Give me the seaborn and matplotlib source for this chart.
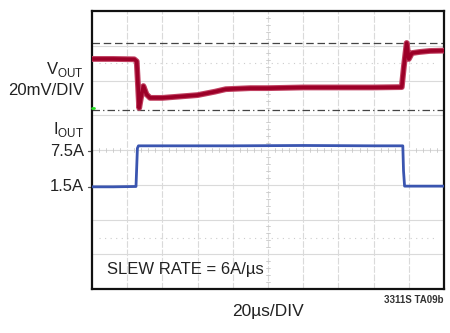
import pandas as pd
import seaborn as sns
import matplotlib.pyplot as plt

# scope traces, in divisions (x: 0-10 time divs, y: 0-8 vertical divs)
vout_t = [0.0, 0.6, 1.2, 1.27, 1.31, 1.34, 1.39, 1.46, 1.55, 1.65, 2.0, 2.5, 3.0, 3.5, 3.8,
          4.5, 5.0, 6.0, 7.0, 8.0, 8.8, 8.86, 8.94, 9.0, 9.09, 9.3, 9.6, 10.0]
vout_v = [6.62, 6.62, 6.61, 6.55, 5.8, 5.21, 5.5, 5.84, 5.6, 5.5, 5.5, 5.54, 5.58, 5.68, 5.75,
          5.78, 5.78, 5.8, 5.8, 5.8, 5.81, 6.4, 7.08, 6.62, 6.79, 6.82, 6.85, 6.86]

iout_t = [0.0, 0.6, 1.25, 1.27, 1.29, 1.32, 2.0, 4.0, 6.0, 8.0, 8.83, 8.85, 8.88, 9.5, 10.0]
iout_v = [2.94, 2.94, 2.95, 3.5, 4.05, 4.12, 4.12, 4.12, 4.13, 4.12, 4.12, 3.4, 2.96, 2.96, 2.96]

vref_dash = 7.08      # dashed marker level
vref_dashdot = 5.15   # dash-dot marker level
dotted_rows = [6.5, 1.47]

labels = [("V$_\\mathregular{OUT}$", 6.33), ("20mV/DIV", 5.72), ("I$_\\mathregular{OUT}$", 4.58),
          ("7.5A", 3.97), ("1.5A", 2.96)]
tick_marks = [3.97, 2.94]

sns.set_style("white")
plt.rcParams['font.family'] = ['Liberation Sans', 'DejaVu Sans']
plt.rcParams['mathtext.fontset'] = 'custom'
plt.rcParams['mathtext.rm'] = 'Liberation Sans'

fig = plt.figure(figsize=(4.5, 3.33), dpi=100)
ax = fig.add_axes([92 / 450, 44 / 333, 352 / 450, 278 / 333])

# graticule
for x in range(1, 10):
    ax.axvline(x, color='#dadada', lw=0.8, ls=(0, (6, 1.5)), zorder=0)
for y in range(1, 8):
    ax.axhline(y, color='#dadada', lw=0.8, zorder=0)
for y in dotted_rows:
    ax.axhline(y, xmin=0.02, xmax=0.98, color='#cccccc', lw=0.8, ls=(0, (1, 4)), zorder=0)
# minor ticks on the centre cross
for i in range(1, 50):
    if i % 5:
        ax.plot([i * 0.2, i * 0.2], [3.93, 4.07], color='#c8c8c8', lw=0.6, zorder=0)
for i in range(1, 40):
    if i % 5:
        ax.plot([4.93, 5.07], [i * 0.2, i * 0.2], color='#c8c8c8', lw=0.6, zorder=0)

ax.axhline(vref_dash, color='#444444', lw=0.9, ls=(0, (6, 3)), zorder=1)
ax.axhline(vref_dashdot, color='#444444', lw=0.9, ls=(0, (6, 2.5, 1, 2.5)), zorder=1)

vdf = pd.DataFrame({'t': vout_t, 'v': vout_v})
idf = pd.DataFrame({'t': iout_t, 'v': iout_v})
sns.lineplot(data=vdf, x='t', y='v', ax=ax, color='#c04060', lw=4.2, estimator=None, zorder=3)
sns.lineplot(data=vdf, x='t', y='v', ax=ax, color='#9c0028', lw=2.6, estimator=None, zorder=3)
sns.lineplot(data=idf, x='t', y='v', ax=ax, color='#3a55b0', lw=2.0, estimator=None, zorder=3)

# channel ground marker
ax.plot([0, 0.06], [5.21, 5.21], color='#22dd22', lw=2, clip_on=False, zorder=4)

ax.set_xlim(0, 10)
ax.set_ylim(0, 8)
ax.set_xticks([])
ax.set_yticks([])
ax.set_xlabel('')
ax.set_ylabel('')
for s in ax.spines.values():
    s.set_color('#111111')
    s.set_linewidth(1.6)

for txt, y in labels:
    ax.text(-0.23, y, txt, ha='right', va='center', fontsize=12, color='#222222')
for y in tick_marks:
    ax.plot([-0.12, 0], [y, y], color='#555555', lw=0.9, clip_on=False)

ax.text(0.43, 0.55, 'SLEW RATE = 6A/µs', ha='left', va='center', fontsize=12, color='#222222')
ax.text(5.0, -0.66, '20µs/DIV', ha='center', va='center', fontsize=12.5, color='#222222')
ax.text(10.0, -0.32, '3311S TA09b', ha='right', va='center', fontsize=7, fontweight='bold',
        color='#333333')

fig.savefig('out.png', dpi=100)
